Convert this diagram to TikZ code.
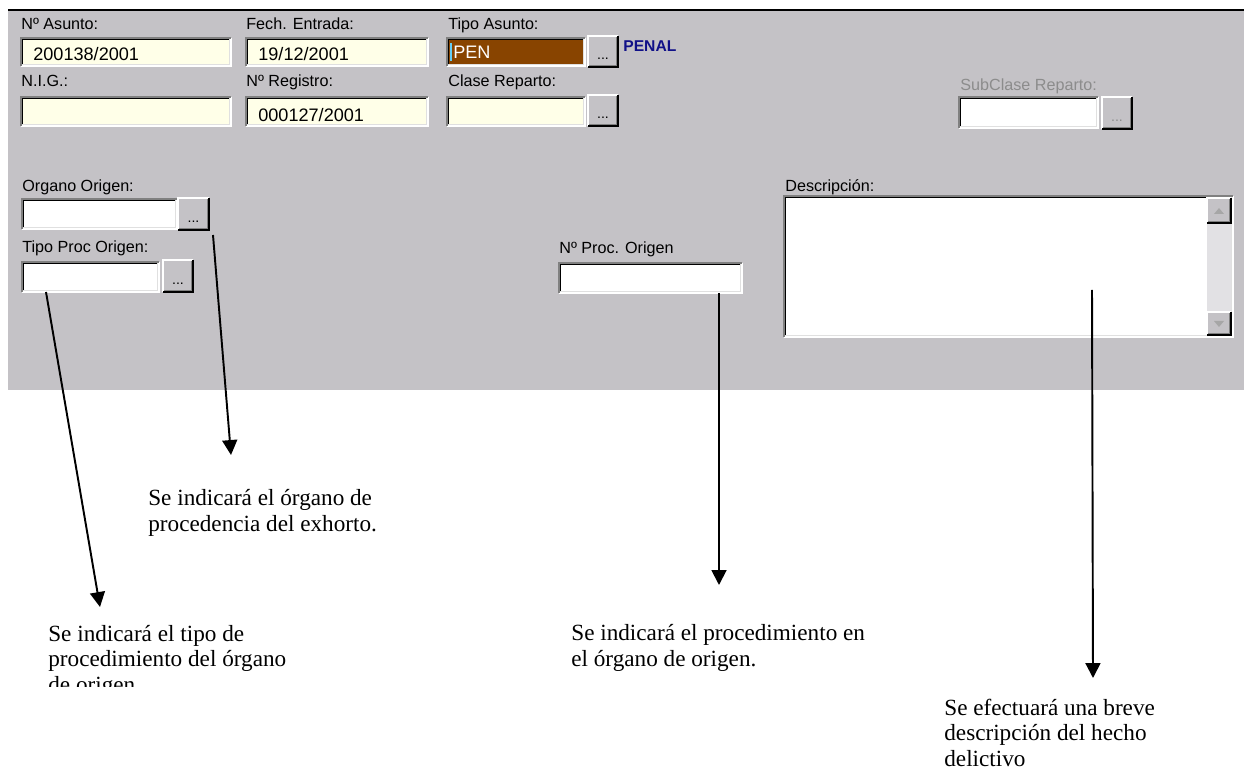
\documentclass[tikz,border=0pt]{standalone}
\usepackage{fontspec}
\setmainfont{Liberation Serif}
\newfontfamily\guifont{Liberation Sans}
\usetikzlibrary{arrows.meta}

\definecolor{panelgray}{RGB}{196,194,198}
\definecolor{fieldyellow}{RGB}{255,255,232}
\definecolor{penbrown}{RGB}{136,68,0}
\definecolor{penalblue}{RGB}{16,16,136}
\definecolor{edgegray}{RGB}{128,128,128}
\definecolor{lightedge}{RGB}{224,224,224}
\definecolor{offgray}{RGB}{140,140,140}
\definecolor{trackgray}{RGB}{226,225,228}

% sunken entry box: x1,y1,x2,y2,fill
\newcommand{\sunkenbox}[5]{%
  \fill[#5] (#1,#2) rectangle (#3,#4);
  \draw[white, line width=0.6pt] (#1,#4) -| (#3,#2);
  \draw[edgegray, line width=0.6pt] (#1,#4) |- (#3,#2);
  \draw[black, line width=0.6pt] (#1+1.2,#4-1.2) |- (#3-1.2,#2+1.2);
  \draw[lightedge, line width=0.6pt] (#1+1.2,#4-1.2) -| (#3-1.2,#2+1.2);
}
% raised button: x1,y1,x2,y2,name,dot colour
\newcommand{\raisedbtn}[6]{%
  \fill[panelgray] (#1,#2) rectangle (#3,#4);
  \draw[white, line width=0.6pt] (#1,#4) |- (#3,#2);
  \draw[black, line width=0.6pt] (#1,#4) -| (#3,#2);
  \draw[edgegray, line width=0.6pt] (#1+1.2,#4-1.2) -| (#3-1.2,#2+1.2);
  \node[btndots, text=#6] (#5) at ({(#1+#3)/2},{(#4)-7}) {...};
}

\begin{document}
\begin{tikzpicture}[x=0.02cm, y=-0.02cm,
  lbl/.style={anchor=base west, inner sep=0pt, font=\guifont\fontsize{9.2}{10}\selectfont},
  val/.style={anchor=base west, inner sep=0pt, font=\guifont\fontsize{10.3}{12}\selectfont},
  btndots/.style={anchor=base, inner sep=0pt, font=\guifont\fontsize{8}{9}\selectfont},
  note/.style={anchor=base west, inner sep=0pt, align=left, font=\fontsize{13.2}{14.5}\selectfont},
  arr/.style={-{Triangle[length=8.5pt,width=8.5pt]}, line width=1.1pt}]
  \useasboundingbox (0,0) rectangle (1244,773);

  % window panel
  \fill[panelgray] (8,10) rectangle (1244,390);
  \draw[black, line width=1.1pt] (8,10) -- (1244,10);

  % first row
  \node[lbl] (l_asunto) at (21,30) {Nº Asunto:};
  \node[lbl] (l_fecha)  at (246,30) {Fech. Entrada:};
  \node[lbl] (l_tipo)   at (448,30) {Tipo Asunto:};
  \sunkenbox{21}{38}{231}{66}{fieldyellow}
  \sunkenbox{246}{38}{428}{66}{fieldyellow}
  \sunkenbox{447}{38}{585}{66}{penbrown}
  \raisedbtn{588}{36}{618}{67}{b_tipo}{black}
  \node[val] (v_asunto) at (33,61) {200138/2001};
  \node[val] (v_fecha)  at (258,61) {19/12/2001};
  \node[val, text=white] (v_tipo) at (453,59) {PEN};
  \draw[cyan!60, line width=0.6pt] (451,43) -- (451,61);
  \node[anchor=base west, inner sep=0pt, text=penalblue,
        font=\guifont\bfseries\fontsize{8.9}{10}\selectfont] (v_penal) at (623,52) {PENAL};

  % second row
  \node[lbl] (l_nig)      at (21,87) {N.I.G.:};
  \node[lbl] (l_registro) at (246,87) {Nº Registro:};
  \node[lbl] (l_clase)    at (448,87) {Clase Reparto:};
  \node[lbl, text=offgray] (l_subclase) at (960,91) {SubClase Reparto:};
  \sunkenbox{21}{97}{231}{126}{fieldyellow}
  \sunkenbox{246}{97}{428}{126}{fieldyellow}
  \sunkenbox{447}{97}{585}{126}{fieldyellow}
  \raisedbtn{588}{95}{618}{126}{b_clase}{black}
  \sunkenbox{959}{97}{1098}{128}{white}
  \raisedbtn{1102}{97}{1132}{129}{b_subclase}{offgray}
  \node[val] (v_registro) at (258,122) {000127/2001};

  % origin block
  \node[lbl] (l_organo)  at (22,192) {Organo Origen:};
  \sunkenbox{22}{199}{177}{229}{white}
  \raisedbtn{178}{198}{209}{230}{b_organo}{black}
  \node[lbl] (l_tproc)   at (22,253) {Tipo Proc Origen:};
  \sunkenbox{22}{262}{159}{292}{white}
  \raisedbtn{163}{260}{193}{292}{b_tproc}{black}
  \node[lbl] (l_nproc)   at (559,254) {Nº Proc. Origen};
  \sunkenbox{559}{263}{742}{293}{white}

  % description box with scroll bar
  \node[lbl] (l_desc) at (785,192) {Descripción:};
  \sunkenbox{784}{196}{1233}{337}{white}
  \fill[trackgray] (1207,223) rectangle (1231,312);
  \raisedbtn{1207}{198}{1231}{223}{b_up}{panelgray}
  \raisedbtn{1207}{312}{1231}{335}{b_down}{panelgray}
  \fill[edgegray!70] (1214,214) -- (1224,214) -- (1219,208) -- cycle;
  \fill[edgegray!70] (1214,321) -- (1224,321) -- (1219,327) -- cycle;

  % notes (base = last line)
  \node[note] (n_organo) at (148,531) {Se indicará el órgano de\\procedencia del exhorto.};
  \begin{scope}
    \clip (0,0) rectangle (1244,686);
    \node[note] (n_tproc) at (48,692) {Se indicará el tipo de\\procedimiento del órgano\\de origen};
  \end{scope}
  \node[note] (n_nproc) at (571,666) {Se indicará el procedimiento en\\el órgano de origen.};
  \node[note] (n_desc)  at (944,766) {Se efectuará una breve\\descripción del hecho\\delictivo};

  % connectors
  \coordinate (organo_from) at (213,235);
  \coordinate (organo_to)   at (231,455);
  \coordinate (tproc_from)  at (46,292);
  \coordinate (tproc_to)    at (100,607);
  \coordinate (nproc_from)  at (719,293);
  \coordinate (nproc_to)    at (719,585);
  \coordinate (desc_from)   at (1092,290);
  \coordinate (desc_to)     at (1093,678);

  \draw[arr] (organo_from) -- (organo_to);
  \draw[arr] (tproc_from) -- (tproc_to);
  \draw[arr] (nproc_from) -- (nproc_to);
  \draw[arr] (desc_from) -- (desc_to);
\end{tikzpicture}
\end{document}
